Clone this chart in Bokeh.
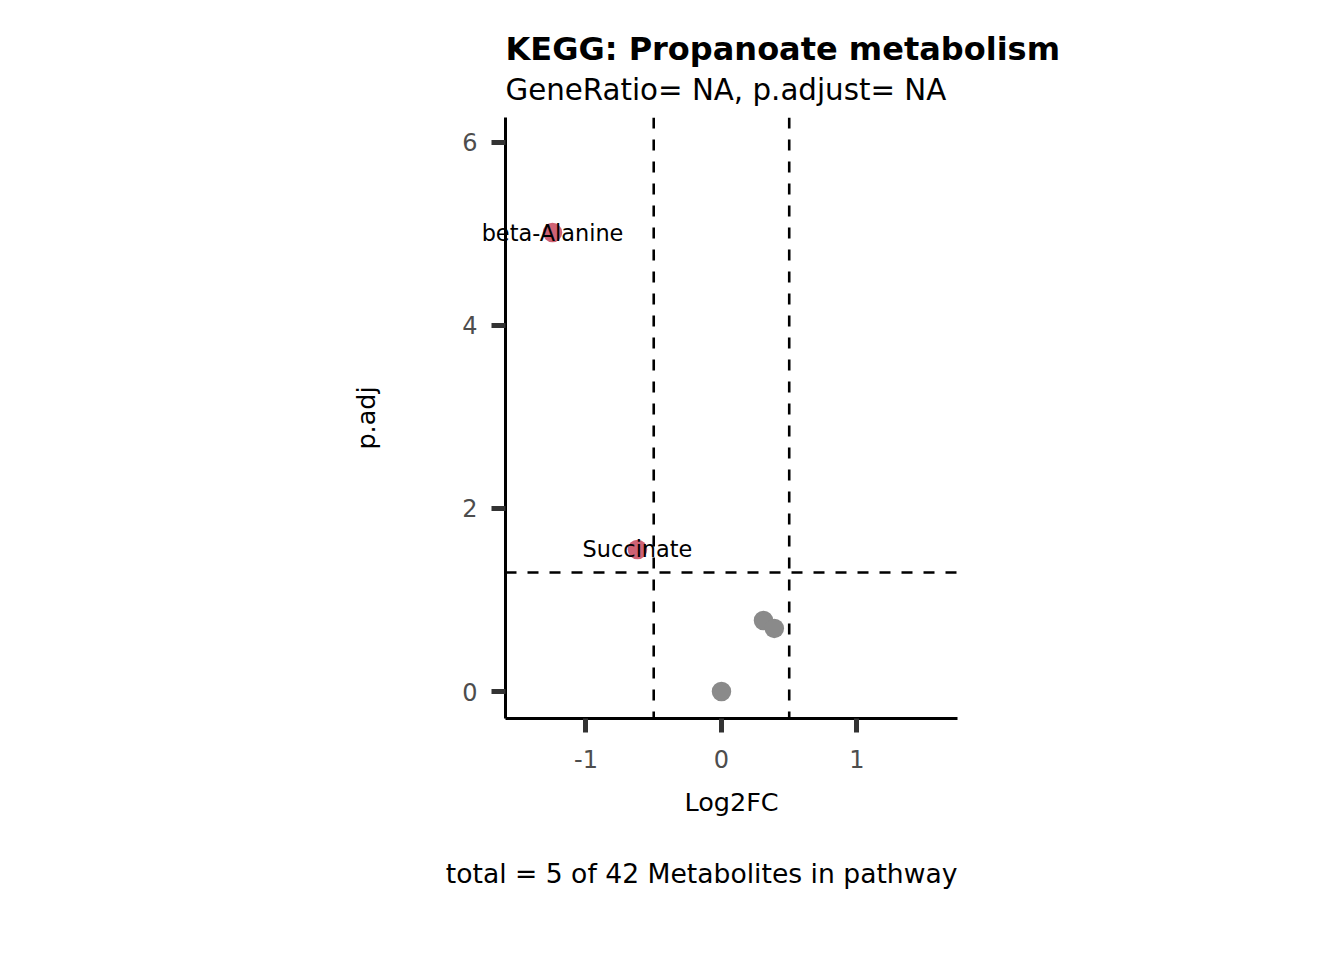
from bokeh.plotting import figure
from bokeh.models import (ColumnDataSource, Range1d, FixedTicker, Span, Label, Title)
from bokeh.embed import file_html
from bokeh.resources import INLINE

# ---- data ----
metabolites = ["beta-Alanine", "Succinate", "M3", "M4", "M5"]
log2fc = [-1.247, -0.62, 0.31, 0.39, 0.0]
padj = [5.016, 1.552, 0.776, 0.689, 0.0]
significant = [True, True, False, False, False]
labels = ["beta-Alanine", "Succinate", "", "", ""]
fc_cutoffs = [-0.5, 0.5]
p_cutoffs = [1.301]
x_ticks = [-1, 0, 1]
y_ticks = [0, 2, 4, 6]
x_lim = [-1.594, 1.742]
y_lim = [-0.295, 6.273]
title_text = "KEGG: Propanoate metabolism"
subtitle_text = "GeneRatio= NA, p.adjust= NA"
caption_text = "total = 5 of 42 Metabolites in pathway"

RED = "#CF6274"
GREY = "#8A8A8A"
FONT = "DejaVu Sans"

colors = [RED if s else GREY for s in significant]
src = ColumnDataSource(dict(x=log2fc, y=padj, c=colors, lab=labels))

p = figure(width=1344, height=960, output_backend="svg", toolbar_location=None,
           x_range=Range1d(*x_lim), y_range=Range1d(*y_lim),
           min_border_left=505, min_border_right=387, min_border_top=117,
           min_border_bottom=242)
p.outline_line_color = None
p.grid.visible = False
p.background_fill_color = "white"
p.border_fill_color = "white"

DASH = "11 11"
for loc in fc_cutoffs:
    p.add_layout(Span(location=loc, dimension="height", line_color="black",
                      line_width=2.6, line_dash=DASH))
for loc in p_cutoffs:
    p.add_layout(Span(location=loc, dimension="width", line_color="black",
                      line_width=2.6, line_dash=DASH))

p.scatter("x", "y", source=src, size=19.5, fill_color="c", line_color=None)

# point labels (single Labels in a side panel so they are not clipped at the frame edge)
for xv, yv, lab in zip(log2fc, padj, labels):
    if lab:
        p.add_layout(Label(x=xv, y=yv, text=lab, text_align="center",
                           text_baseline="middle", text_font=FONT,
                           text_font_size="22.4px", text_color="black"), "left")

for ax, ticks, lab in ((p.xaxis, x_ticks, "Log2FC"), (p.yaxis, y_ticks, "p.adj")):
    ax.ticker = FixedTicker(ticks=ticks)
    ax.major_label_overrides = {t: str(t) for t in ticks}
    ax.axis_label = lab
    ax.axis_line_color = "black"
    ax.axis_line_width = 3
    ax.major_tick_line_color = "#333333"
    ax.major_tick_line_width = 5
    ax.major_tick_out = 14
    ax.major_tick_in = 0
    ax.minor_tick_line_color = None
    ax.major_label_text_font = FONT
    ax.major_label_text_font_size = "24px"
    ax.major_label_text_color = "#4D4D4D"
    ax.axis_label_text_font = FONT
    ax.axis_label_text_font_size = "25.5px"
    ax.axis_label_text_font_style = "normal"
    ax.axis_label_text_color = "black"

p.xaxis.major_label_standoff = 17
p.xaxis.axis_label_standoff = 16
p.yaxis.major_label_standoff = 14
p.yaxis.axis_label_standoff = 78
p.yaxis.major_label_orientation = "horizontal"

p.add_layout(Title(text=subtitle_text, align="left", standoff=22, text_line_height=0.6,
                   text_font=FONT, text_font_size="29.3px", text_font_style="normal",
                   text_color="black"), "above")
p.add_layout(Title(text=title_text, align="left", standoff=-16,
                   text_font=FONT, text_font_size="32px", text_font_style="bold",
                   text_color="black"), "above")
p.add_layout(Title(text=caption_text, align="right", standoff=73,
                   text_font=FONT, text_font_size="26.6px", text_font_style="normal",
                   text_color="black"), "below")

open("out.html", "w").write(file_html(p, INLINE))
